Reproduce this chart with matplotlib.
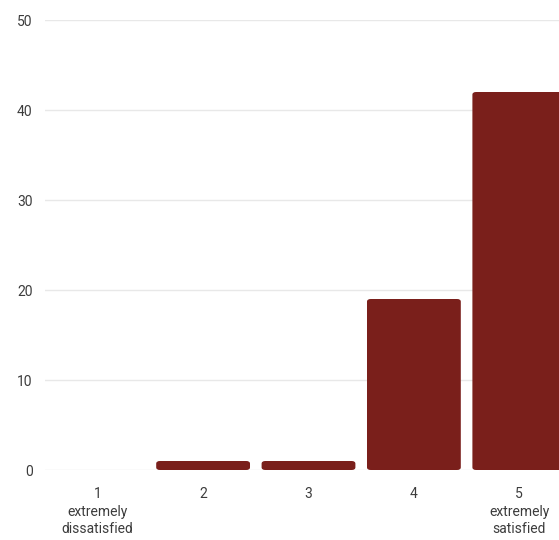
import matplotlib
matplotlib.use("Agg")
import matplotlib.pyplot as plt
from matplotlib.patches import FancyBboxPatch

categories = ["1\nextremely\ndissatisfied", "2", "3", "4", "5\nextremely\nsatisfied"]
counts = [0, 1, 1, 19, 42]
y_ticks = [0, 10, 20, 30, 40, 50]

bar_color = "#7a1f1b"
text_color = "#3c3c3c"
grid_color = "#e8e8e8"

plt.rcParams["font.family"] = ["Roboto", "DejaVu Sans"]

fig = plt.figure(figsize=(5.59, 5.40), dpi=100)
ax = fig.add_axes([45 / 559, 70 / 540, 527 / 559, 450 / 540])

x = list(range(1, len(counts) + 1))
bars = ax.bar(x, counts, width=0.89, color=bar_color, zorder=3)

# replace plain bars with versions whose corners are slightly rounded
for b in bars:
    h = b.get_height()
    b.set_visible(False)
    if h <= 0:
        continue
    x0, y0 = b.get_xy()
    w = b.get_width()
    patch = FancyBboxPatch((x0, y0), w, h,
                           boxstyle="round,pad=0,rounding_size=0.035",
                           mutation_aspect=8.5,
                           facecolor=bar_color, edgecolor="none", zorder=3)
    ax.add_patch(patch)

ax.set_xlim(0.5, 5.5)
ax.set_ylim(0, 50)
ax.set_yticks(y_ticks)
ax.set_xticks(x)
ax.set_xticklabels(categories, linespacing=1.35)
ax.tick_params(axis="both", length=0, labelsize=10, colors=text_color)
ax.tick_params(axis="y", pad=9)
ax.tick_params(axis="x", pad=12)
ax.grid(axis="y", color=grid_color, linewidth=1, zorder=0)
for s in ax.spines.values():
    s.set_visible(False)

fig.savefig("out.png", dpi=100, facecolor="white")
